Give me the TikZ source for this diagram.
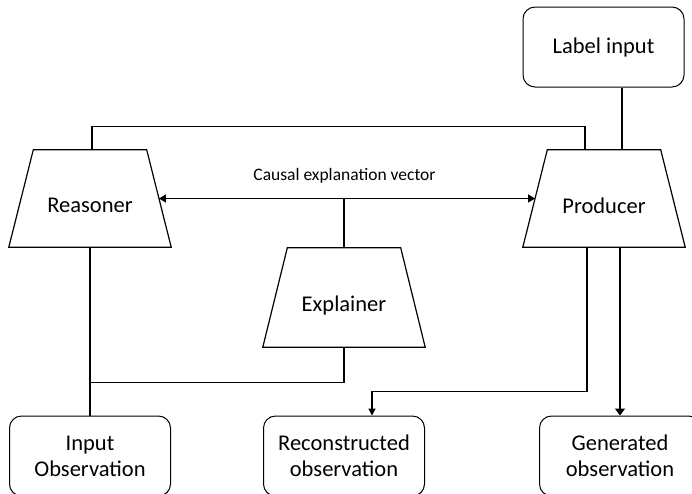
\documentclass[tikz,border=0pt]{standalone}
\usepackage{fontspec}
\setmainfont{Carlito}
\usetikzlibrary{arrows.meta}
\begin{document}
\begin{tikzpicture}[x=1pt,y=-1pt,
  trapbox/.style={rectangle, minimum width=162pt, minimum height=97pt, inner sep=0pt,
    font=\fontsize{22.5}{26}\selectfont, text depth=0pt},
  small/.style={font=\fontsize{17.5}{20}\selectfont, inner sep=0pt},
  rbox/.style={draw, line width=1pt, rounded corners=12pt, minimum width=161pt,
    minimum height=80pt, align=center, inner sep=0pt, font=\fontsize{22.5}{26}\selectfont},
  outline/.style={draw, line width=1.2pt, line join=miter},
  conn/.style={line width=1.3pt},
  tipA/.style={-{Triangle[length=7pt,width=7pt]}},
  tipB/.style={-{Triangle[length=7pt,width=10pt]}},
  tipC/.style={{Triangle[length=7pt,width=8pt]}-{Triangle[length=7pt,width=8pt]}}
]
\useasboundingbox (0,0) rectangle (692,493);
\clip (0,0) rectangle (692,493);
\fill[white] (0,0) rectangle (692,493);

% trapezia (invisible frames, outlines drawn from their anchors)
\node[trapbox] (R) at (90,198.5) {};
\node[trapbox] (P) at (604,198.5) {};
\node[trapbox, minimum height=99pt] (E) at (344,297.5) {};
\foreach \t in {R,P,E}{
  \draw[outline] (\t.south west) -- ([xshift=24.5pt]\t.north west) --
    ([xshift=-24.5pt]\t.north east) -- (\t.south east) -- cycle;
}
\node[trapbox, draw=none, minimum width=0pt, minimum height=0pt] (Rt) at ([yshift=-7pt]R.center) {Reasoner};
\node[trapbox, draw=none, minimum width=0pt, minimum height=0pt] (Pt) at ([yshift=-7pt]P.center) {Producer};
\node[trapbox, draw=none, minimum width=0pt, minimum height=0pt] (Et) at ([yshift=-6pt]E.center) {Explainer};

% boxes
\node[rbox] (L) at (603.5,47) {Label input};
\node[rbox] (I) at (90,456) {Input\\Observation};
\node[rbox] (C) at (344,456) {Reconstructed\\observation};
\node[rbox] (G) at (620,456) {Generated\\observation};

% label
\node[small, anchor=base] (cev) at (344.5,180) {Causal explanation vector};

% connectors
\draw[conn] ([xshift=2pt]R.north) -- ++(0,-23) -| ([xshift=-19pt]P.north);
\draw[conn] ([xshift=18.5pt]L.south) -- ([xshift=18pt]P.north);
\draw[conn, tipC] ([xshift=-12.25pt]R.east) -- ([xshift=12.25pt]P.west);
\draw[conn] (E.north) -- (E.north |- R.east);
\draw[conn] (R.south) -- (I.north);
\draw[conn] (E.south) -- ++(0,35) coordinate (ej) -- (ej -| R.south);
\draw[conn, tipA] ([xshift=-17pt]P.south) -- ++(0,144) -| ([xshift=28pt]C.north);
\draw[conn, tipB] (P.south -| G.north) -- (G.north);
\end{tikzpicture}
\end{document}
